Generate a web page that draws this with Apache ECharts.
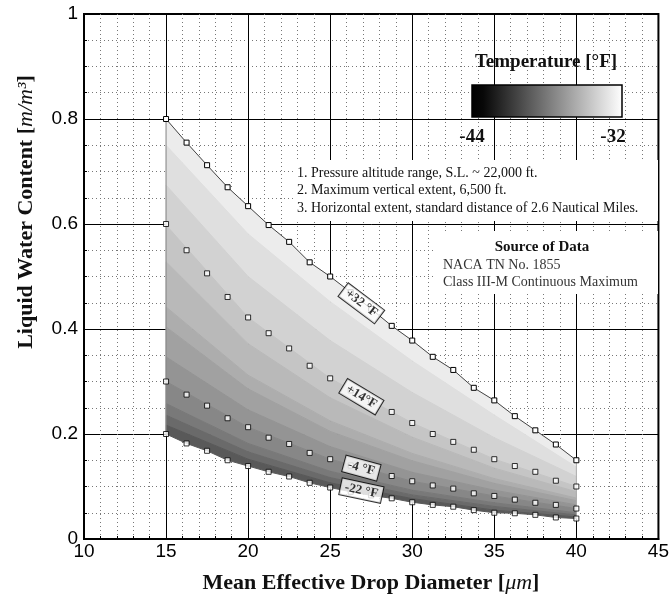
<!DOCTYPE html>
<html><head><meta charset="utf-8">
<script src="https://cdn.jsdelivr.net/npm/echarts/dist/echarts.min.js"></script>
<style>html,body{margin:0;padding:0;background:#fff}#c{width:672px;height:595px}</style>
</head><body><div id="c"></div>
<script>
// Mean effective drop diameter (µm) sample positions
const diam = [15,16.25,17.5,18.75,20,21.25,22.5,23.75,25,26.25,27.5,28.75,30,31.25,32.5,33.75,35,36.25,37.5,38.75,40];
// Liquid water content (g/m^3) along each temperature curve
const lwcPlus32  = [0.800,0.755,0.712,0.670,0.634,0.598,0.566,0.527,0.500,0.470,0.438,0.406,0.378,0.347,0.322,0.288,0.264,0.234,0.207,0.180,0.150];
const lwcPlus14  = [0.600,0.550,0.506,0.461,0.422,0.392,0.363,0.330,0.306,0.283,0.262,0.242,0.221,0.200,0.185,0.170,0.152,0.139,0.128,0.111,0.100];
const lwcMinus4  = [0.300,0.275,0.254,0.230,0.213,0.193,0.181,0.164,0.152,0.140,0.130,0.120,0.110,0.102,0.096,0.087,0.082,0.075,0.069,0.065,0.058];
const lwcMinus22 = [0.200,0.182,0.168,0.150,0.139,0.128,0.119,0.107,0.098,0.090,0.083,0.0775,0.070,0.065,0.0615,0.055,0.050,0.049,0.046,0.041,0.039];

// contour band boundaries read at these diameters
const bandDiam = [15,20,25,30,35,40];
const band1  = [0.750,0.581,0.452,0.339,0.236,0.137];
const band2  = [0.674,0.500,0.378,0.279,0.193,0.119];
const band3  = [0.598,0.422,0.306,0.221,0.152,0.100];
const band4  = [0.528,0.372,0.269,0.194,0.135,0.090];
const band5  = [0.442,0.312,0.225,0.163,0.115,0.078];
const band6  = [0.404,0.286,0.205,0.149,0.106,0.073];
const band7  = [0.347,0.246,0.176,0.127,0.093,0.065];
const band8  = [0.300,0.213,0.152,0.110,0.082,0.058];
const band9  = [0.258,0.182,0.129,0.093,0.069,0.050];
const band10 = [0.236,0.166,0.117,0.084,0.062,0.046];
const band11 = [0.217,0.152,0.107,0.077,0.055,0.042];
const bandColors = ['#ececec','#dfdfdf','#d2d2d2','#c5c5c5','#b9b9b9','#adadad','#a1a1a1','#949494','#878787','#797979','#6a6a6a','#595959'];

const curveLabels = ['+32 °F','+14°F','-4 °F','-22 °F'];
const curveLabelDiam = [26.9,26.9,26.9,26.9];
const curveLabelLwc = [0.449,0.271,0.135,0.092];
const curveLabelAngle = [-37,-31,-15,-12];

const legendTitle = 'Temperature [°F]';
const legendMin = '-44', legendMax = '-32';
const notes = ['1. Pressure altitude range, S.L. ~ 22,000 ft.','2. Maximum vertical extent, 6,500 ft.','3. Horizontal extent, standard distance of 2.6 Nautical Miles.'];
const sourceTitle = 'Source of Data';
const sourceLines = ['NACA TN No. 1855','Class III-M Continuous Maximum'];

const edges = [{x: diam, y: lwcPlus32}].concat(
  [band1,band2,band3,band4,band5,band6,band7,band8,band9,band10,band11].map(b => ({x: bandDiam, y: b})),
  [{x: diam, y: lwcMinus22}]
);
const pairs = (ys) => diam.map((d,i) => [d, ys[i]]);
const SERIF = '"Liberation Serif", "Times New Roman", serif';
const SANS = '"Liberation Sans", Arial, sans-serif';

const markerStyle = {color:'#fff', borderColor:'#000', borderWidth:1};
const chart = echarts.init(document.getElementById('c'), null, {renderer:'canvas'});
chart.setOption({
  animation:false,
  backgroundColor:'#fff',
  grid:{left:84, right:12, top:14, bottom:56, show:true, borderColor:'#000', borderWidth:2},
  xAxis:{type:'value', min:10, max:45, interval:5,
    axisLine:{show:true, onZero:false, lineStyle:{color:'#000', width:2}},
    axisTick:{show:true, inside:true, length:6, lineStyle:{color:'#000'}},
    minorTick:{show:true, splitNumber:5, length:3, lineStyle:{color:'#000'}},
    splitLine:{show:true, lineStyle:{color:'#000', width:1}},
    minorSplitLine:{show:true, lineStyle:{color:'#777', width:1, type:[1,3]}},
    axisLabel:{color:'#000', fontFamily:SANS, fontSize:19, margin:3}},
  yAxis:{type:'value', min:0, max:1, interval:0.2,
    axisLine:{show:true, onZero:false, lineStyle:{color:'#000', width:2}},
    axisTick:{show:true, inside:true, length:6, lineStyle:{color:'#000'}},
    minorTick:{show:true, splitNumber:4, length:3, lineStyle:{color:'#000'}},
    splitLine:{show:true, lineStyle:{color:'#000', width:1}},
    minorSplitLine:{show:true, lineStyle:{color:'#777', width:1, type:[1,3]}},
    axisLabel:{color:'#000', fontFamily:SANS, fontSize:19, margin:6}},
  series:[
    {type:'custom', z:2, data: bandColors.map((c,i)=>[i]),
     renderItem:function(params, api){
       const i = params.dataIndex, up = edges[i], lo = edges[i+1];
       const pts = [];
       up.x.forEach((x,k)=>pts.push(api.coord([x, up.y[k]])));
       for (let k = lo.x.length-1; k >= 0; k--) pts.push(api.coord([lo.x[k], lo.y[k]]));
       return {type:'polygon', shape:{points:pts}, style:{fill:bandColors[i], stroke:bandColors[i], lineWidth:1}};
     }},
    {type:'line', z:3, silent:true, symbol:'none', lineStyle:{color:'#8a8a8a', width:1},
     data:[[diam[0], lwcMinus22[0]],[diam[0], lwcPlus32[0]]]},
    {type:'line', z:3, silent:true, symbol:'none', lineStyle:{color:'#b0b0b0', width:1},
     data:[[diam[diam.length-1], lwcMinus22[diam.length-1]],[diam[diam.length-1], lwcPlus32[diam.length-1]]]},
    {type:'line', z:4, data:pairs(lwcPlus32), symbol:'rect', symbolSize:5, showAllSymbol:true,
     lineStyle:{color:'#444', width:1}, itemStyle:markerStyle},
    {type:'scatter', z:4, data:pairs(lwcPlus14), symbol:'rect', symbolSize:5, itemStyle:markerStyle},
    {type:'scatter', z:4, data:pairs(lwcMinus4), symbol:'rect', symbolSize:5, itemStyle:markerStyle},
    {type:'scatter', z:4, data:pairs(lwcMinus22), symbol:'rect', symbolSize:5, itemStyle:markerStyle},
    {type:'scatter', z:5, symbolSize:0, silent:true,
     data: curveLabels.map((t,i)=>({value:[curveLabelDiam[i], curveLabelLwc[i]],
       label:{show:true, position:'inside', formatter:t, rotate:curveLabelAngle[i],
         color:'#000', fontFamily:SERIF, fontWeight:'bold', fontSize:13,
         backgroundColor:'#fff', borderColor:'#000', borderWidth:1, padding:[2,4,1,4]}}))}
  ],
  graphic:[
    {type:'rect', z:10, shape:{x:293, y:160, width:365, height:61}, style:{fill:'#fff'}},
    ...notes.map((t,i)=>({type:'text', z:11, x:297, y:173+i*17.6,
      style:{text:t, fill:'#111', fontFamily:SERIF, fontSize:14, align:'left', verticalAlign:'middle'}})),
    {type:'rect', z:10, shape:{x:435, y:231, width:223, height:63}, style:{fill:'#fff'}},
    {type:'text', z:11, x:542, y:247,
      style:{text:sourceTitle, fill:'#111', fontFamily:SERIF, fontWeight:'bold', fontSize:15, align:'center', verticalAlign:'middle'}},
    ...sourceLines.map((t,i)=>({type:'text', z:11, x:443, y:265+i*17.7,
      style:{text:t, fill:'#333', fontFamily:SERIF, fontSize:14, align:'left', verticalAlign:'middle'}})),
    {type:'text', z:11, x:546, y:62,
      style:{text:legendTitle, fill:'#111', fontFamily:SERIF, fontWeight:'bold', fontSize:19, align:'center', verticalAlign:'middle'}},
    {type:'rect', z:11, shape:{x:472, y:85, width:150, height:32},
      style:{fill:new echarts.graphic.LinearGradient(0,0,1,0,[{offset:0,color:'#000'},{offset:0.08,color:'#080808'},{offset:1,color:'#fff'}]), stroke:'#000', lineWidth:1.5}},
    {type:'text', z:11, x:472, y:137,
      style:{text:legendMin, fill:'#111', fontFamily:SERIF, fontWeight:'bold', fontSize:19, align:'center', verticalAlign:'middle'}},
    {type:'text', z:11, x:613, y:137,
      style:{text:legendMax, fill:'#111', fontFamily:SERIF, fontWeight:'bold', fontSize:19, align:'center', verticalAlign:'middle'}},
    {type:'text', z:11, x:371, y:583,
      style:{text:'{b|Mean Effective Drop Diameter [}{i|μm}{b|]}', align:'center', verticalAlign:'middle',
        rich:{b:{fontFamily:SERIF, fontWeight:'bold', fontSize:22, fill:'#111'}, i:{fontFamily:SERIF, fontStyle:'italic', fontSize:22, fill:'#111'}}}},
    {type:'text', z:11, x:26, y:212, rotation:Math.PI/2,
      style:{text:'{b|Liquid Water Content [}{i|m/m³}{b|]}', align:'center', verticalAlign:'middle',
        rich:{b:{fontFamily:SERIF, fontWeight:'bold', fontSize:22, fill:'#111'}, i:{fontFamily:SERIF, fontStyle:'italic', fontSize:22, fill:'#111'}}}}
  ]
});
</script></body></html>
